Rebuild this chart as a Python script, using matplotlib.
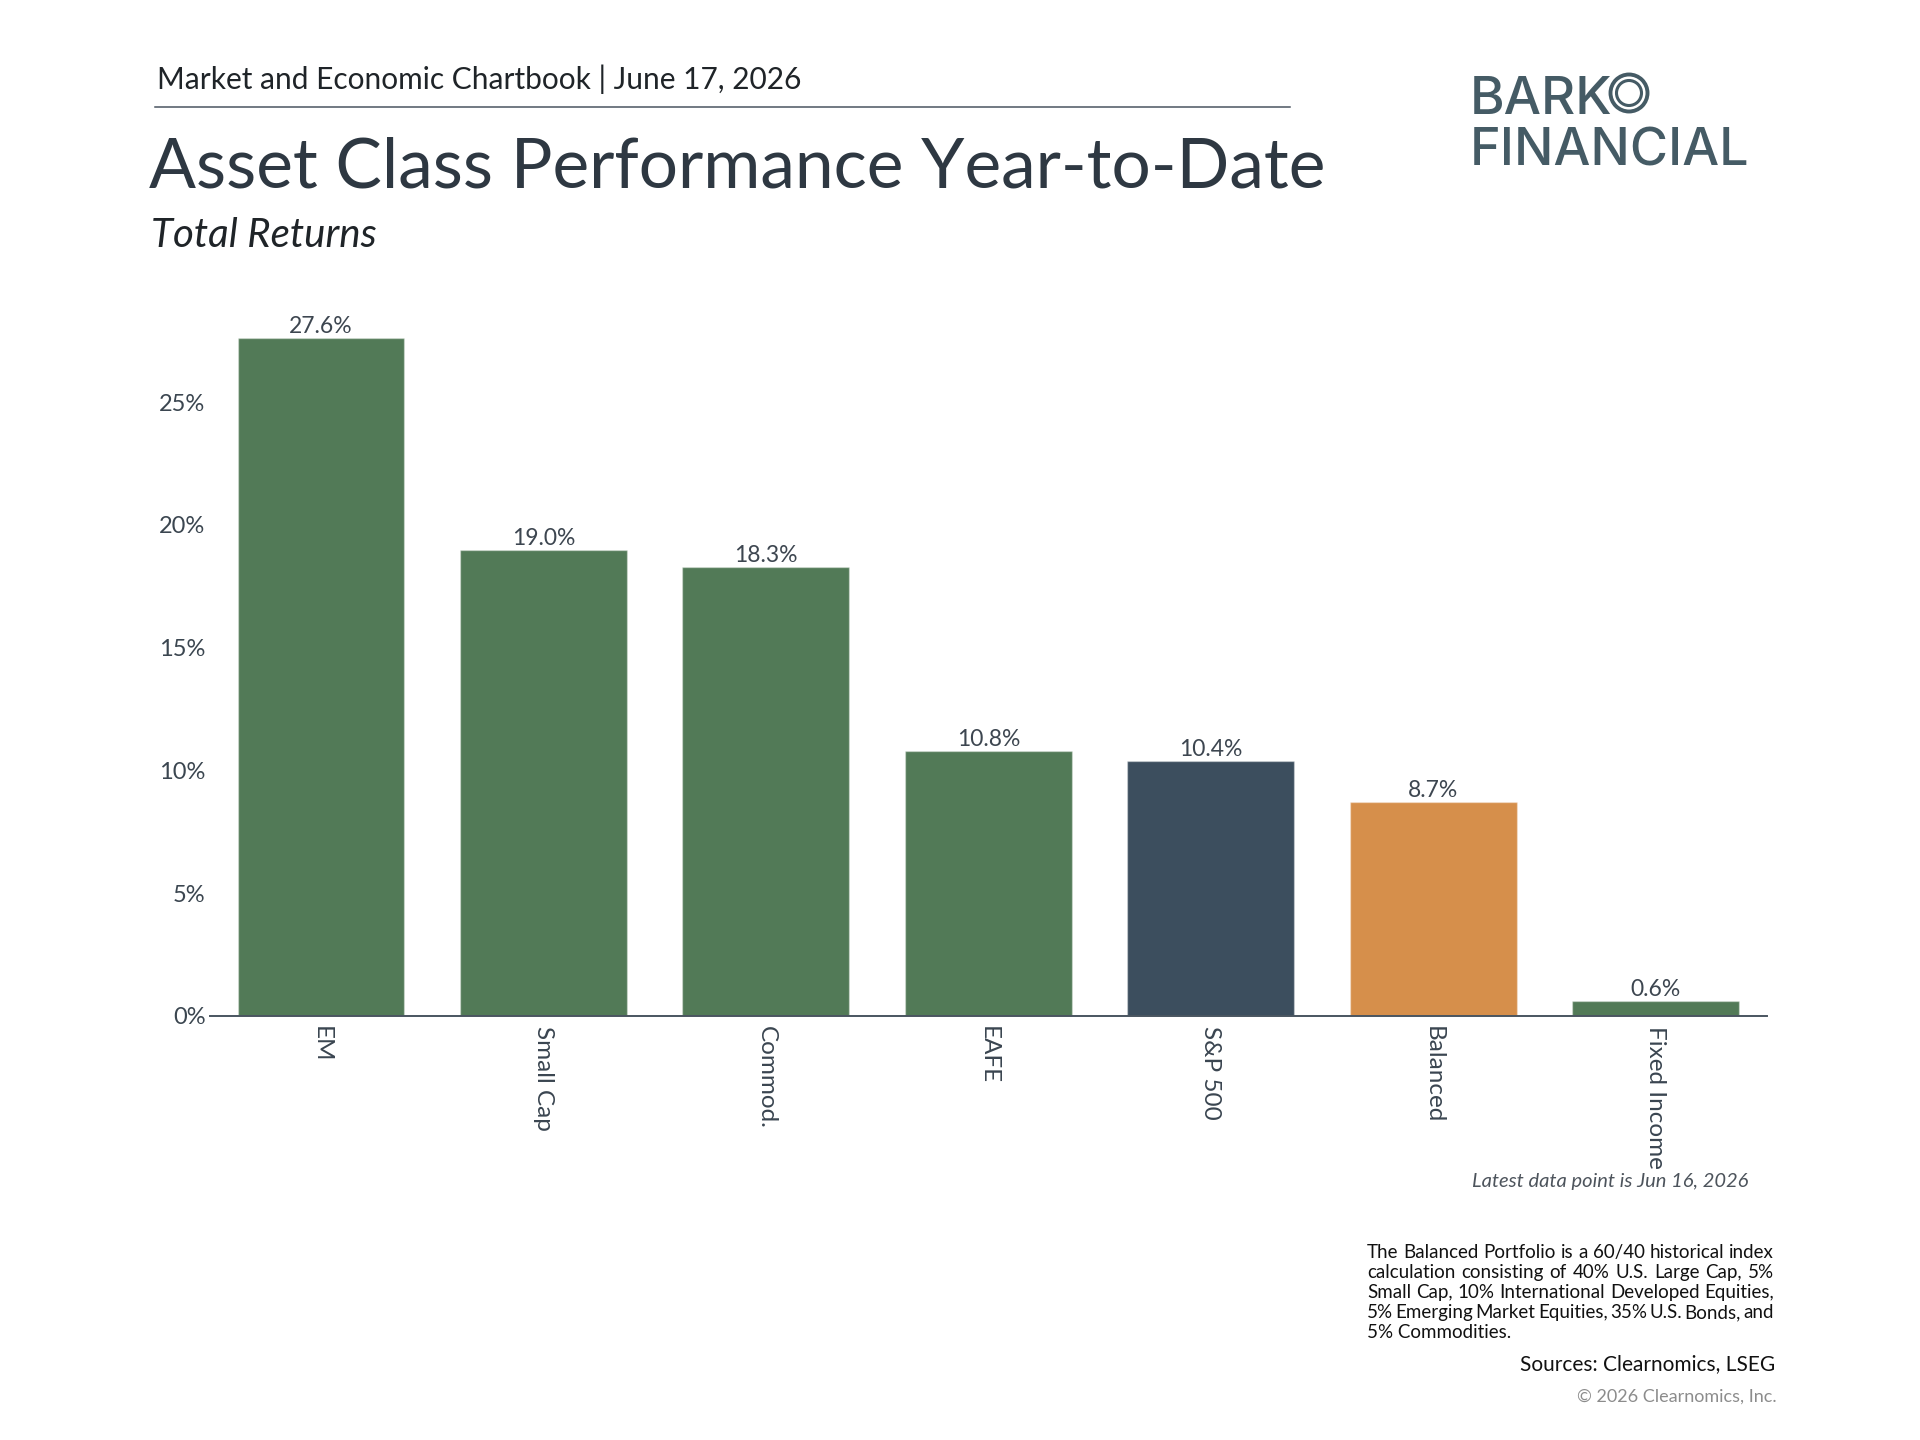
import numpy as np
import matplotlib.pyplot as plt
from matplotlib.patches import Circle

# data
categories = ['EM', 'Small Cap', 'Commod.', 'EAFE', 'S&P 500', 'Balanced', 'Fixed Income']
returns = [27.6, 19.0, 18.3, 10.8, 10.4, 8.7, 0.6]
bar_colors = ['#527a57', '#527a57', '#527a57', '#527a57', '#3c4e5e', '#d68f4b', '#527a57']
yticks = [0, 5, 10, 15, 20, 25]
ytick_labels = ['0%', '5%', '10%', '15%', '20%', '25%']

footnote_lines = [
    'The Balanced Portfolio is a 60/40 historical index',
    'calculation consisting of 40% U.S. Large Cap, 5%',
    'Small Cap, 10% International Developed Equities,',
    '5% Emerging Market Equities, 35% U.S. Bonds, and',
    '5% Commodities.',
]

plt.rcParams['font.family'] = ['Lato', 'DejaVu Sans']

W, H = 1920, 1440


def fx(x):
    return x / W


def fy(y):
    return 1 - y / H


fig = plt.figure(figsize=(19.2, 14.4), dpi=100)

# header
fig.text(fx(157), fy(89), 'Market and Economic Chartbook | June 17, 2026',
         fontsize=21.5, color='#1f2428', va='baseline')
fig.add_artist(plt.Line2D([fx(155), fx(1290)], [fy(107), fy(107)], color='#4a5560', lw=1.1))
fig.text(fx(149), fy(187), 'Asset Class Performance Year-to-Date',
         fontsize=50, color='#2e3842', va='baseline')
fig.text(fx(151), fy(247), 'Total Returns', fontsize=29, style='italic',
         color='#1f2428', va='baseline')

# logo
logo_color = '#455b65'
fig.text(fx(1470), fy(114), 'BARK', family=['Inter', 'DejaVu Sans'], fontweight='medium',
         fontsize=38, color=logo_color, va='baseline')
fig.text(fx(1470), fy(166), 'FINANCIAL', family=['Inter', 'DejaVu Sans'], fontweight='medium',
         fontsize=37.5, color=logo_color, va='baseline')
fig.add_artist(Circle((16.29, (H - 93) / 100), 0.185, fill=False, lw=2.8,
                      ec=logo_color, transform=fig.dpi_scale_trans))
fig.add_artist(Circle((16.29, (H - 93) / 100), 0.125, fill=False, lw=2.2,
                      ec=logo_color, transform=fig.dpi_scale_trans))

# bars
ax = fig.add_axes([fx(209.75), fy(1016), fx(1767) - fx(209.75), (1016 - 304) / H])
x = np.arange(len(categories))
ax.bar(x, returns, width=0.75, color=bar_colors, edgecolor=(1, 1, 1, 0.35), linewidth=1)
ax.set_xlim(-0.5, len(categories) - 0.5)
ax.set_ylim(0, 29)
for s in ['top', 'right', 'left']:
    ax.spines[s].set_visible(False)
ax.spines['bottom'].set_color('#4a5560')
ax.spines['bottom'].set_linewidth(1.4)

ax.set_yticks(yticks, ytick_labels)
ax.tick_params(axis='y', length=0, pad=3, labelsize=17, labelcolor='#3b4650')
ax.set_xticks(x, categories, rotation=-90)
ax.tick_params(axis='x', length=0, pad=7, labelsize=17.5, labelcolor='#3a4550')

for i, v in enumerate(returns):
    ax.annotate(f'{v:.1f}%', (i, v), xytext=(0, 3.6), textcoords='offset points',
                ha='center', va='baseline', fontsize=16.5, color='#3d4650')

# notes
fig.text(fx(1748), fy(1187), 'Latest data point is Jun 16, 2026', style='italic',
         fontsize=14.5, color='#4d545c', ha='right', va='baseline')

renderer = fig.canvas.get_renderer()
left, right = 1367, 1774
for i, line in enumerate(footnote_lines):
    yy = fy(1258 + 20 * i)
    if i == len(footnote_lines) - 1:
        fig.text(fx(left), yy, line, fontsize=13.5, color='#111111', va='baseline')
        continue
    words = line.split()
    ts = [fig.text(0, yy, w, fontsize=13.5, color='#111111', va='baseline') for w in words]
    widths = [t.get_window_extent(renderer).width for t in ts]
    gap = (right - left - sum(widths)) / (len(words) - 1)
    xx = left
    for t, w in zip(ts, widths):
        t.set_x(fx(xx))
        xx += w + gap

fig.text(fx(1775), fy(1370), 'Sources: Clearnomics, LSEG', fontsize=15,
         color='#111111', ha='right', va='baseline')
fig.text(fx(1777), fy(1402), '\u00a9 2026 Clearnomics, Inc.', fontsize=13,
         color='#8c8c8c', ha='right', va='baseline')

fig.savefig('out.png', dpi=100, facecolor='white')
